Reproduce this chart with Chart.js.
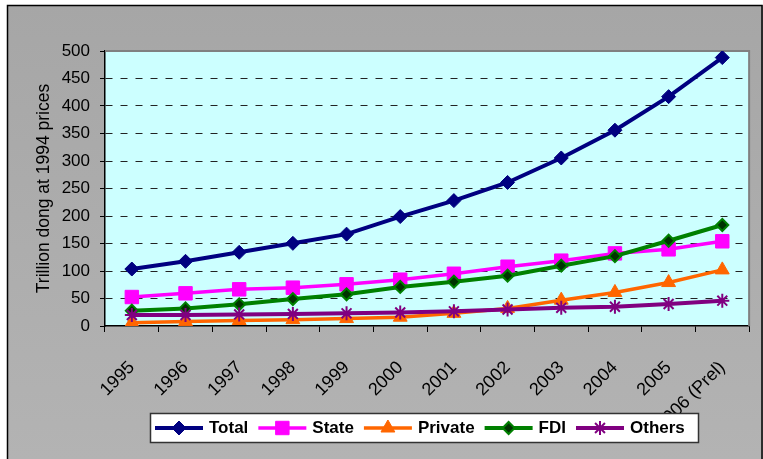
<!DOCTYPE html>
<html>
<head>
<meta charset="utf-8">
<title>Investment by ownership</title>
<script src="https://cdn.jsdelivr.net/npm/chart.js@4/dist/chart.umd.min.js"></script>
<style>
  html, body { margin: 0; padding: 0; background: #fff; }
  canvas { display: block; }
</style>
</head>
<body>
<canvas id="investChart" width="763" height="459"></canvas>
<script>
// Chart data (trillion dong, 1994 prices)
const years = ['1995', '1996', '1997', '1998', '1999', '2000', '2001', '2002', '2003', '2004', '2005', '2006 (Prel)'];
const total = [103.6, 117.6, 134, 150.3, 167, 199, 228, 261, 305.5, 356, 417, 488];
const state = [52.7, 59.4, 66.7, 69.7, 75.8, 84.2, 95, 107.8, 118.8, 132, 139.4, 154];
const privateSector = [6, 8, 10, 11.5, 13.5, 16, 23, 32, 47, 61, 79, 102];
const fdi = [27.9, 32, 39.4, 49, 57.6, 71, 80.6, 91.5, 109.7, 127, 155, 183.6];
const others = [20, 20, 21, 22, 23, 24.5, 26.7, 30, 33, 35, 40, 46];

const yTicks = [0, 50, 100, 150, 200, 250, 300, 350, 400, 450, 500];

const FONT = '"Liberation Sans", Arial, sans-serif';

// Plot frame, background and the Excel-like legend box
const framePlugin = {
    id: 'frame',
    beforeDraw(chart) {
        const ctx = chart.ctx;
        const a = chart.chartArea;
        ctx.save();
        ctx.fillStyle = '#ffffff';
        ctx.fillRect(0, 0, chart.width, chart.height);

        const grad = ctx.createLinearGradient(0, 5, 0, chart.height);
        grad.addColorStop(0, '#a6a6a6');
        grad.addColorStop(1, '#b3b3b3');
        ctx.fillStyle = grad;
        ctx.fillRect(7, 5, chart.width - 7, chart.height - 5);
        ctx.strokeStyle = '#000';
        ctx.lineWidth = 1.5;
        ctx.strokeRect(7.5, 5.5, chart.width - 8.5, chart.height + 5);

        ctx.fillStyle = '#ccffff';
        ctx.fillRect(a.left, a.top, a.right - a.left, a.bottom - a.top);
        ctx.restore();
    },
    beforeDatasetsDraw(chart) {
        const ctx = chart.ctx;
        const a = chart.chartArea;
        ctx.save();
        ctx.strokeStyle = '#808080';
        ctx.lineWidth = 2;
        ctx.beginPath();
        ctx.moveTo(a.left, a.top);
        ctx.lineTo(a.right, a.top);
        ctx.lineTo(a.right, a.bottom);
        ctx.stroke();
        ctx.restore();
    },
    afterDraw(chart) {
        const ctx = chart.ctx;
        const box = { x: 150, y: 413, w: 548, h: 29 };
        ctx.save();
        ctx.fillStyle = '#ffffff';
        ctx.fillRect(box.x, box.y, box.w, box.h);
        ctx.strokeStyle = '#333';
        ctx.lineWidth = 1.5;
        ctx.strokeRect(box.x + 0.5, box.y + 0.5, box.w, box.h);

        ctx.font = 'bold 17px ' + FONT;
        ctx.textBaseline = 'middle';
        const cy = box.y + box.h / 2 + 0.5;
        let x = box.x + 5;
        chart.data.datasets.forEach(ds => {
            ctx.strokeStyle = ds.borderColor;
            ctx.lineWidth = ds.borderWidth;
            ctx.beginPath();
            ctx.moveTo(x, cy);
            ctx.lineTo(x + 48, cy);
            ctx.stroke();

            ctx.fillStyle = ds.pointBackgroundColor;
            ctx.strokeStyle = ds.pointBorderColor;
            ctx.lineWidth = ds.pointBorderWidth;
            Chart.helpers.drawPoint(ctx, {
                pointStyle: ds.pointStyle,
                radius: ds.pointRadius,
                borderWidth: ds.pointBorderWidth,
                rotation: 0
            }, x + 24, cy);

            ctx.fillStyle = '#000';
            ctx.fillText(ds.label, x + 54, cy);
            x += 54 + ctx.measureText(ds.label).width + 10;
        });
        ctx.restore();
    }
};

function series(label, data, color, style, extra) {
    return Object.assign({
        label: label,
        data: data,
        borderColor: color,
        backgroundColor: color,
        borderWidth: 3.5,
        pointStyle: style,
        pointRadius: 7,
        pointHoverRadius: 7,
        pointBackgroundColor: color,
        pointBorderColor: color,
        pointBorderWidth: 1,
        tension: 0,
        fill: false
    }, extra || {});
}

new Chart(document.getElementById('investChart').getContext('2d'), {
    type: 'line',
    data: {
        labels: years,
        datasets: [
            series('Total', total, '#000080', 'rectRot', { borderWidth: 4, order: 5 }),
            series('State', state, '#ff00ff', 'rect', { pointRadius: 9.5, order: 4 }),
            series('Private', privateSector, '#ff6600', 'triangle', { pointRadius: 8, order: 3 }),
            series('FDI', fdi, '#008000', 'rectRot', {
                borderWidth: 4, pointRadius: 6, pointBackgroundColor: '#003300',
                pointBorderColor: '#008000', pointBorderWidth: 2, order: 2
            }),
            series('Others', others, '#800080', 'star', { borderWidth: 4, pointBorderWidth: 2, order: 1 })
        ]
    },
    options: {
        responsive: false,
        animation: false,
        devicePixelRatio: 1,
        layout: { padding: { top: 51, right: 9, bottom: 0, left: 0 } },
        plugins: {
            legend: { display: false },
            tooltip: { enabled: false }
        },
        scales: {
            x: {
                offset: true,
                grid: { offset: true, drawOnChartArea: false, color: '#000', tickLength: 6 },
                border: { color: '#000', width: 1.5 },
                ticks: {
                    autoSkip: false,
                    minRotation: 45,
                    maxRotation: 45,
                    padding: 25,
                    color: '#000',
                    font: { family: FONT, size: 18 }
                },
                afterFit(scale) { scale.height = 133; }
            },
            y: {
                min: 0,
                max: 500,
                afterBuildTicks(scale) { scale.ticks = yTicks.map(v => ({ value: v })); },
                grid: {
                    color: ctx => (ctx.tick && (ctx.tick.value === 0 || ctx.tick.value === 500)) ? 'rgba(0,0,0,0)' : '#222',
                    tickColor: '#000',
                    tickBorderDash: [],
                    tickLength: 5
                },
                border: { color: '#000', width: 1.5, dash: [7, 8] },
                ticks: {
                    padding: 10,
                    color: '#000',
                    font: { family: FONT, size: 17 }
                },
                title: {
                    display: true,
                    text: 'Trillion dong at 1994 prices',
                    color: '#000',
                    padding: { top: 34, bottom: 0 },
                    font: { family: FONT, size: 17.5 }
                },
                afterFit(scale) { scale.width = 105; }
            }
        }
    },
    plugins: [framePlugin]
});
</script>
</body>
</html>
